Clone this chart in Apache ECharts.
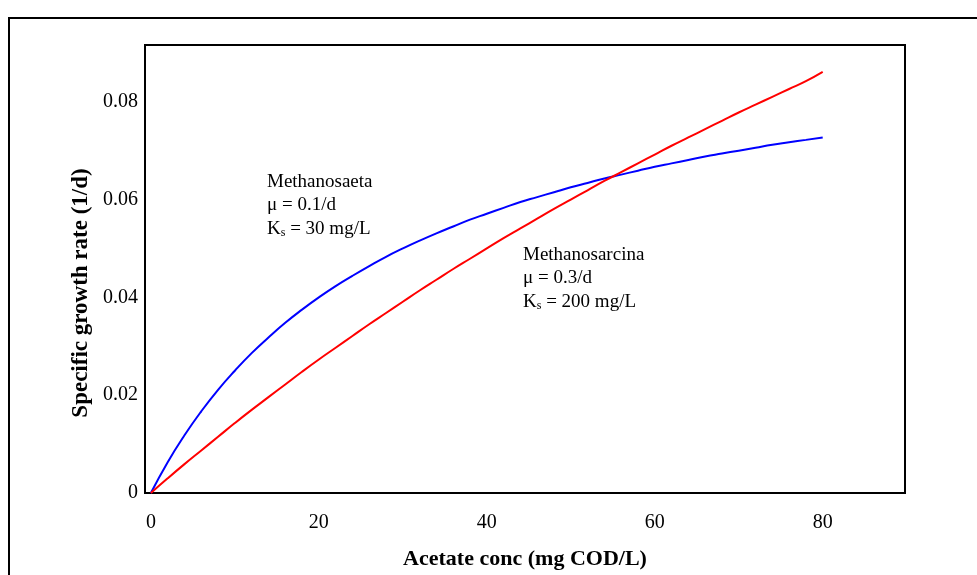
<!DOCTYPE html>
<html>
<head>
<meta charset="utf-8">
<script src="https://cdn.jsdelivr.net/npm/echarts@6/dist/echarts.min.js"></script>
<style>
  html, body { margin: 0; padding: 0; background: #fff; }
  #main { width: 977px; height: 575px; }
</style>
</head>
<body>
<div id="main"></div>
<script>
// acetate concentration (mg COD/L)
var conc = [0, 2, 4, 6, 8, 10, 12, 14, 16, 18, 20, 22, 24, 26, 28, 30, 32, 34, 36, 38, 40,
            42, 44, 46, 48, 50, 52, 54, 56, 58, 60, 62, 64, 66, 68, 70, 72, 74, 76, 78, 80];

// growth rate (1/d)
var saeta = [0, 0.0063, 0.0118, 0.0167, 0.0211, 0.0250, 0.0286, 0.0318, 0.0348, 0.0375, 0.0400,
             0.0423, 0.0444, 0.0464, 0.0483, 0.0500, 0.0516, 0.0531, 0.0545, 0.0559, 0.0571,
             0.0583, 0.0595, 0.0605, 0.0615, 0.0625, 0.0634, 0.0643, 0.0651, 0.0659, 0.0667,
             0.0674, 0.0681, 0.0688, 0.0694, 0.0700, 0.0706, 0.0712, 0.0717, 0.0722, 0.0727];
var sarcina = [0, 0.0030, 0.0059, 0.0087, 0.0115, 0.0143, 0.0170, 0.0196, 0.0222, 0.0248, 0.0273,
               0.0297, 0.0321, 0.0345, 0.0368, 0.0391, 0.0414, 0.0436, 0.0458, 0.0479, 0.0500,
               0.0521, 0.0541, 0.0561, 0.0581, 0.0600, 0.0619, 0.0638, 0.0656, 0.0674, 0.0692,
               0.0710, 0.0727, 0.0744, 0.0761, 0.0778, 0.0794, 0.0810, 0.0826, 0.0842, 0.0861];

var xTicks = [0, 20, 40, 60, 80];

function pairs(xs, ys) {
    return xs.map(function (x, i) { return [x, ys[i]]; });
}

var serif = "'Liberation Serif', 'Times New Roman', serif";

// note text with a subscript s on K
var noteRich = {
    k: { fontFamily: serif, fontSize: 19, fill: '#000' },
    s: { fontFamily: serif, fontSize: 12, fill: '#000', padding: [9, 0, 0, 0] }
};

var myChart = echarts.init(document.getElementById('main'));
var option = {
    backgroundColor: '#fff',
    animation: false,
    grid: {
        left: 145, top: 45, right: 72, bottom: 82,
        show: true, borderColor: '#000', borderWidth: 2
    },
    xAxis: {
        type: 'value',
        min: -0.7, max: 89.8,
        name: 'Acetate conc (mg COD/L)',
        nameLocation: 'middle',
        nameGap: 55,
        nameTextStyle: { fontFamily: serif, fontSize: 22, fontWeight: 'bold', color: '#000' },
        axisLine: { show: false },
        axisTick: { show: false },
        splitLine: { show: false },
        axisLabel: {
            customValues: xTicks,
            margin: 20,
            fontFamily: serif, fontSize: 20, color: '#000'
        }
    },
    yAxis: {
        type: 'value',
        min: 0, max: 0.0916, interval: 0.02,
        axisLine: { show: false },
        axisTick: { show: false },
        splitLine: { show: false },
        axisLabel: {
            margin: 7,
            padding: [4, 0, 0, 0],
            fontFamily: serif, fontSize: 20, color: '#000',
            showMaxLabel: false,
            formatter: function (v) { return v === 0 ? '0' : v.toFixed(2); }
        }
    },
    graphic: [
        {
            type: 'rect', silent: true, z: -1,
            shape: { x: 9, y: 18, width: 1100, height: 700 },
            style: { fill: 'none', stroke: '#000', lineWidth: 2 }
        },
        {
            // y axis title, sits a bit below the plot centre in the original
            type: 'text', x: 81, y: 293, rotation: Math.PI / 2,
            style: {
                text: 'Specific growth rate (1/d)',
                fontFamily: serif, fontSize: 23, fontWeight: 'bold', fill: '#000',
                align: 'center', verticalAlign: 'middle'
            }
        },
        {
            type: 'text', left: 267, top: 170,
            style: {
                text: 'Methanosaeta\nμ = 0.1/d\n{k|K}{s|s}{k| = 30 mg/L}',
                fontFamily: serif, fontSize: 19, lineHeight: 23.5, fill: '#000',
                rich: noteRich
            }
        },
        {
            type: 'text', left: 523, top: 243,
            style: {
                text: 'Methanosarcina\nμ = 0.3/d\n{k|K}{s|s}{k| = 200 mg/L}',
                fontFamily: serif, fontSize: 19, lineHeight: 23.5, fill: '#000',
                rich: noteRich
            }
        }
    ],
    series: [
        {
            name: 'Methanosaeta',
            type: 'line',
            data: pairs(conc, saeta),
            showSymbol: false,
            smooth: true,
            lineStyle: { color: '#0000ff', width: 2 }
        },
        {
            name: 'Methanosarcina',
            type: 'line',
            data: pairs(conc, sarcina),
            showSymbol: false,
            smooth: true,
            lineStyle: { color: '#ff0000', width: 2 }
        }
    ]
};
myChart.setOption(option);
</script>
</body>
</html>
